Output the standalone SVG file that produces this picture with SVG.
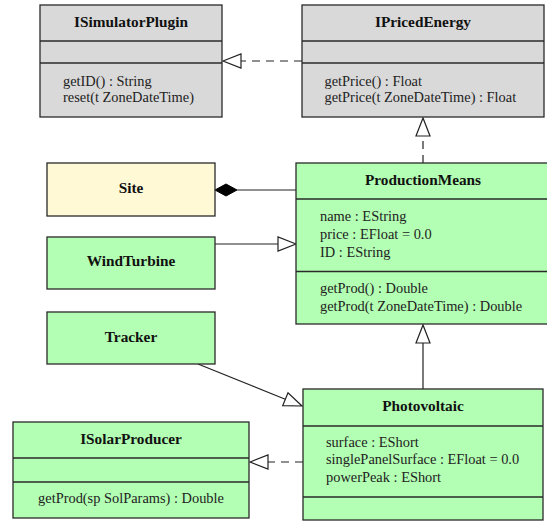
<svg xmlns="http://www.w3.org/2000/svg" width="547" height="521" viewBox="0 0 547 521">
<style>
.box{stroke:#2a2a2a;stroke-width:1.3}
.gray{fill:#d9d9d9}
.green{fill:#b3ffb3}
.yellow{fill:#fff9d6}
.div{stroke:#2a2a2a;stroke-width:1.3}
.t{font-family:"Liberation Serif","Times New Roman",serif;font-size:15.3px;font-weight:bold;fill:#111;text-anchor:middle}
.a{font-family:"Liberation Serif","Times New Roman",serif;font-size:14.4px;fill:#222}
.ac{font-family:"Liberation Serif","Times New Roman",serif;font-size:14.4px;fill:#222;text-anchor:middle}
.ln{stroke:#222;stroke-width:1.2;fill:none}
.dash{stroke-dasharray:8 6}
.tri{fill:#fff;stroke:#222;stroke-width:1.2}
</style>
<rect width="547" height="521" fill="#fff"/>
<g id="connectors">
  <!-- IPricedEnergy realizes ISimulatorPlugin -->
  <line class="ln dash" x1="302" y1="61" x2="241" y2="61"/>
  <polygon class="tri" points="223,61 241,54 241,68"/>
  <!-- ProductionMeans realizes IPricedEnergy -->
  <line class="ln dash" x1="423" y1="163" x2="423" y2="136"/>
  <polygon class="tri" points="423,118 416,136 430,136"/>
  <!-- Site composition -->
  <line class="ln" x1="296" y1="190" x2="237" y2="190"/>
  <polygon points="215,190 226,184 237,190 226,196" fill="#000" stroke="#000" stroke-width="1"/>
  <!-- WindTurbine generalization -->
  <line class="ln" x1="215" y1="244" x2="278" y2="244"/>
  <polygon class="tri" points="296,244 278,237 278,251"/>
  <!-- Photovoltaic generalization -->
  <line class="ln" x1="423" y1="389" x2="423" y2="343"/>
  <polygon class="tri" points="423,325 416,343 430,343"/>
  <!-- Tracker generalization -->
  <line class="ln" x1="198" y1="364" x2="285.3" y2="399.2"/>
  <polygon class="tri" points="302,406 282.7,405.7 288,392.7"/>
  <!-- Photovoltaic realizes ISolarProducer -->
  <line class="ln dash" x1="303" y1="462" x2="268" y2="462"/>
  <polygon class="tri" points="250,462 268,455 268,469"/>
</g>
<g id="ISimulatorPlugin">
  <rect class="box gray" x="40" y="5" width="182" height="112"/>
  <line class="div" x1="40" y1="41" x2="222" y2="41"/>
  <line class="div" x1="40" y1="63" x2="222" y2="63"/>
  <text class="t" x="131" y="27">ISimulatorPlugin</text>
  <text class="a" x="63" y="86">getID() : String</text>
  <text class="a" x="63" y="102">reset(t ZoneDateTime)</text>
</g>
<g id="IPricedEnergy">
  <rect class="box gray" x="302" y="5" width="242" height="112"/>
  <line class="div" x1="302" y1="41" x2="544" y2="41"/>
  <line class="div" x1="302" y1="63" x2="544" y2="63"/>
  <text class="t" x="423" y="27">IPricedEnergy</text>
  <text class="a" x="324.5" y="86">getPrice() : Float</text>
  <text class="a" x="324.5" y="102">getPrice(t ZoneDateTime) : Float</text>
</g>
<g id="Site">
  <rect class="box yellow" x="47" y="163" width="168" height="53"/>
  <text class="t" x="131" y="193">Site</text>
</g>
<g id="ProductionMeans">
  <rect class="box green" x="296" y="163" width="254" height="161"/>
  <line class="div" x1="296" y1="199" x2="550" y2="199"/>
  <line class="div" x1="296" y1="271.5" x2="550" y2="271.5"/>
  <text class="t" x="423" y="185">ProductionMeans</text>
  <text class="a" x="320" y="221">name : EString</text>
  <text class="a" x="320" y="239">price : EFloat = 0.0</text>
  <text class="a" x="320" y="257">ID : EString</text>
  <text class="a" x="320" y="293">getProd() : Double</text>
  <text class="a" x="320" y="311">getProd(t ZoneDateTime) : Double</text>
</g>
<g id="WindTurbine">
  <rect class="box green" x="47" y="237" width="168" height="52"/>
  <text class="t" x="131" y="266">WindTurbine</text>
</g>
<g id="Tracker">
  <rect class="box green" x="47" y="312" width="168" height="52"/>
  <text class="t" x="131" y="342">Tracker</text>
</g>
<g id="ISolarProducer">
  <rect class="box green" x="13" y="422" width="236" height="96"/>
  <line class="div" x1="13" y1="458" x2="249" y2="458"/>
  <line class="div" x1="13" y1="482" x2="249" y2="482"/>
  <text class="t" x="131" y="444">ISolarProducer</text>
  <text class="ac" x="131" y="503">getProd(sp SolParams) : Double</text>
</g>
<g id="Photovoltaic">
  <rect class="box green" x="303" y="389" width="240" height="131"/>
  <line class="div" x1="303" y1="426" x2="543" y2="426"/>
  <line class="div" x1="303" y1="497" x2="543" y2="497"/>
  <text class="t" x="423" y="411">Photovoltaic</text>
  <text class="a" x="326" y="447">surface : EShort</text>
  <text class="a" x="326" y="464">singlePanelSurface : EFloat = 0.0</text>
  <text class="a" x="326" y="482">powerPeak : EShort</text>
</g>
</svg>
